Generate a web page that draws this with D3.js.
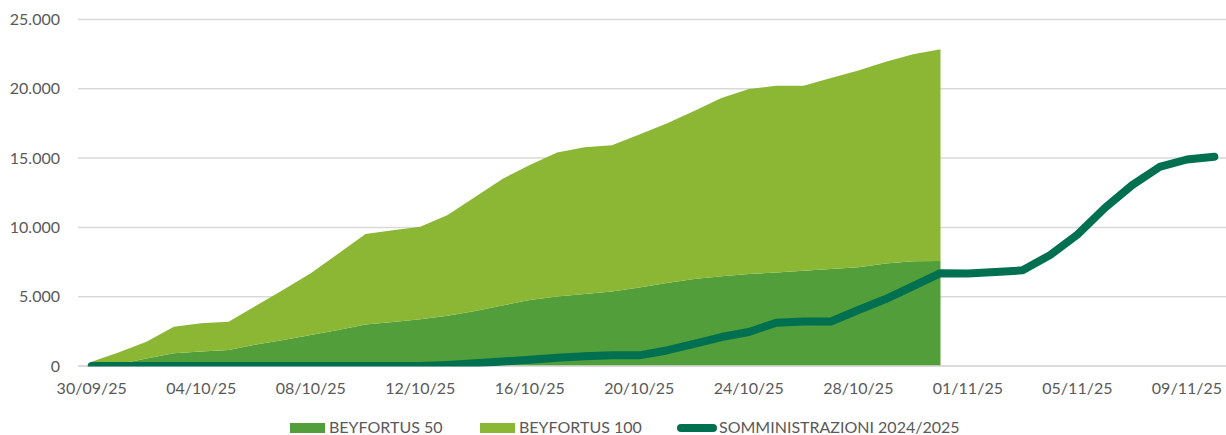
<!DOCTYPE html>
<html>
<head>
<meta charset="utf-8">
<script src="https://cdn.jsdelivr.net/npm/d3@7"></script>
<style>
  html, body { margin: 0; padding: 0; background: #ffffff; }
  svg { display: block; font-family: Lato, "Open Sans", sans-serif; }
</style>
</head>
<body>
<svg id="chart" width="1226" height="435"></svg>
<script>
// ---- DATA ----
const dates = [
  "30/09/25","01/10/25","02/10/25","03/10/25","04/10/25","05/10/25","06/10/25","07/10/25",
  "08/10/25","09/10/25","10/10/25","11/10/25","12/10/25","13/10/25","14/10/25","15/10/25",
  "16/10/25","17/10/25","18/10/25","19/10/25","20/10/25","21/10/25","22/10/25","23/10/25",
  "24/10/25","25/10/25","26/10/25","27/10/25","28/10/25","29/10/25","30/10/25","31/10/25",
  "01/11/25","02/11/25","03/11/25","04/11/25","05/11/25","06/11/25","07/11/25","08/11/25",
  "09/11/25","10/11/25"
];
const beyfortus50 = [
  50, 150, 540, 920, 1050, 1150, 1550, 1880, 2240, 2600, 2990, 3180, 3370, 3630, 3970, 4370,
  4760, 5020, 5200, 5380, 5670, 5990, 6280, 6470, 6640, 6750, 6880, 7000, 7130, 7400, 7560, 7580
];
const beyfortus100 = [
  250, 850, 1210, 1920, 2030, 2050, 2800, 3620, 4460, 5500, 6530, 6610, 6680, 7270, 8230, 9130,
  9740, 10380, 10580, 10540, 11030, 11510, 12120, 12870, 13340, 13470, 13340, 13780, 14190, 14550, 14940, 15270
];
const somministrazioni = [
  0, 0, 0, 0, 0, 0, 0, 0, 0, 0, 0, 0, 0, 80, 200, 320,
  450, 600, 700, 770, 770, 1120, 1600, 2090, 2450, 3120, 3210, 3210, 4040, 4830, 5770, 6700,
  6680, 6780, 6900, 8000, 9480, 11400, 13050, 14360, 14900, 15100
];
const yTicks = [0, 5000, 10000, 15000, 20000, 25000];
const xTickLabels = ["30/09/25","04/10/25","08/10/25","12/10/25","16/10/25","20/10/25",
                     "24/10/25","28/10/25","01/11/25","05/11/25","09/11/25"];
const seriesNames = ["BEYFORTUS 50", "BEYFORTUS 100", "SOMMINISTRAZIONI 2024/2025"];

// ---- LAYOUT ----
const colors = { b50: "#529e3a", b100: "#8bb735", line: "#007050" };
const textColor = "#595959";
const plot = { left: 78, right: 1228, top: 19.5, bottom: 366 };

const svg = d3.select("#chart");

const x = d3.scalePoint().domain(dates).range([plot.left, plot.right]).padding(0.5);
const y = d3.scaleLinear().domain([0, 25000]).range([plot.bottom, plot.top]);

const fmt = v => v === 0 ? "0" : d3.format(",")(v).replace(/,/g, ".");

// gridlines
svg.append("g").selectAll("line").data(yTicks).join("line")
  .attr("x1", plot.left).attr("x2", plot.right)
  .attr("y1", d => y(d)).attr("y2", d => y(d))
  .attr("stroke", "#d9d9d9").attr("stroke-width", 1.5);

// y labels
svg.append("g").selectAll("text").data(yTicks).join("text")
  .attr("x", 60).attr("y", d => y(d) + 5.5)
  .attr("text-anchor", "end")
  .attr("font-size", 16).attr("fill", textColor)
  .text(fmt);

// stacked areas
const areaData = beyfortus50.map((v, i) => ({ date: dates[i], b50: v, b100: beyfortus100[i] }));
const stack = d3.stack().keys(["b50", "b100"]);
const stacked = stack(areaData);
const area = d3.area()
  .x(d => x(d.data.date))
  .y0(d => y(d[0]))
  .y1(d => y(d[1]));

svg.append("g").selectAll("path").data(stacked).join("path")
  .attr("d", area)
  .attr("fill", d => colors[d.key]);

// axis line
svg.append("line")
  .attr("x1", plot.left).attr("x2", plot.right)
  .attr("y1", plot.bottom).attr("y2", plot.bottom)
  .attr("stroke", "#d9d9d9").attr("stroke-width", 1.5);

// clip for line
svg.append("defs").append("clipPath").attr("id", "plotclip")
  .append("rect").attr("x", 0).attr("y", 0).attr("width", 1226).attr("height", plot.bottom + 0.5);

const line = d3.line()
  .x((d, i) => x(dates[i]))
  .y(d => y(d));

svg.append("path")
  .datum(somministrazioni)
  .attr("d", line)
  .attr("fill", "none")
  .attr("stroke", colors.line)
  .attr("stroke-width", 8)
  .attr("stroke-linejoin", "round")
  .attr("stroke-linecap", "round")
  .attr("clip-path", "url(#plotclip)");

// x labels
svg.append("g").selectAll("text").data(xTickLabels).join("text")
  .attr("x", d => x(d)).attr("y", 394)
  .attr("text-anchor", "middle")
  .attr("font-size", 16).attr("fill", textColor)
  .text(d => d);

// legend
const lg = svg.append("g");
lg.append("rect").attr("x", 290).attr("y", 423).attr("width", 35).attr("height", 10).attr("fill", colors.b50);
lg.append("text").attr("x", 329).attr("y", 432.5).attr("font-size", 16).attr("fill", textColor)
  .text(seriesNames[0]);
lg.append("rect").attr("x", 480).attr("y", 423).attr("width", 35).attr("height", 10).attr("fill", colors.b100);
lg.append("text").attr("x", 519).attr("y", 432.5).attr("font-size", 16).attr("fill", textColor)
  .text(seriesNames[1]);
lg.append("line").attr("x1", 681).attr("x2", 713).attr("y1", 428).attr("y2", 428)
  .attr("stroke", colors.line).attr("stroke-width", 8).attr("stroke-linecap", "round");
lg.append("text").attr("x", 719).attr("y", 432.5).attr("font-size", 16).attr("fill", textColor)
  .text(seriesNames[2]);
</script>
</body>
</html>
